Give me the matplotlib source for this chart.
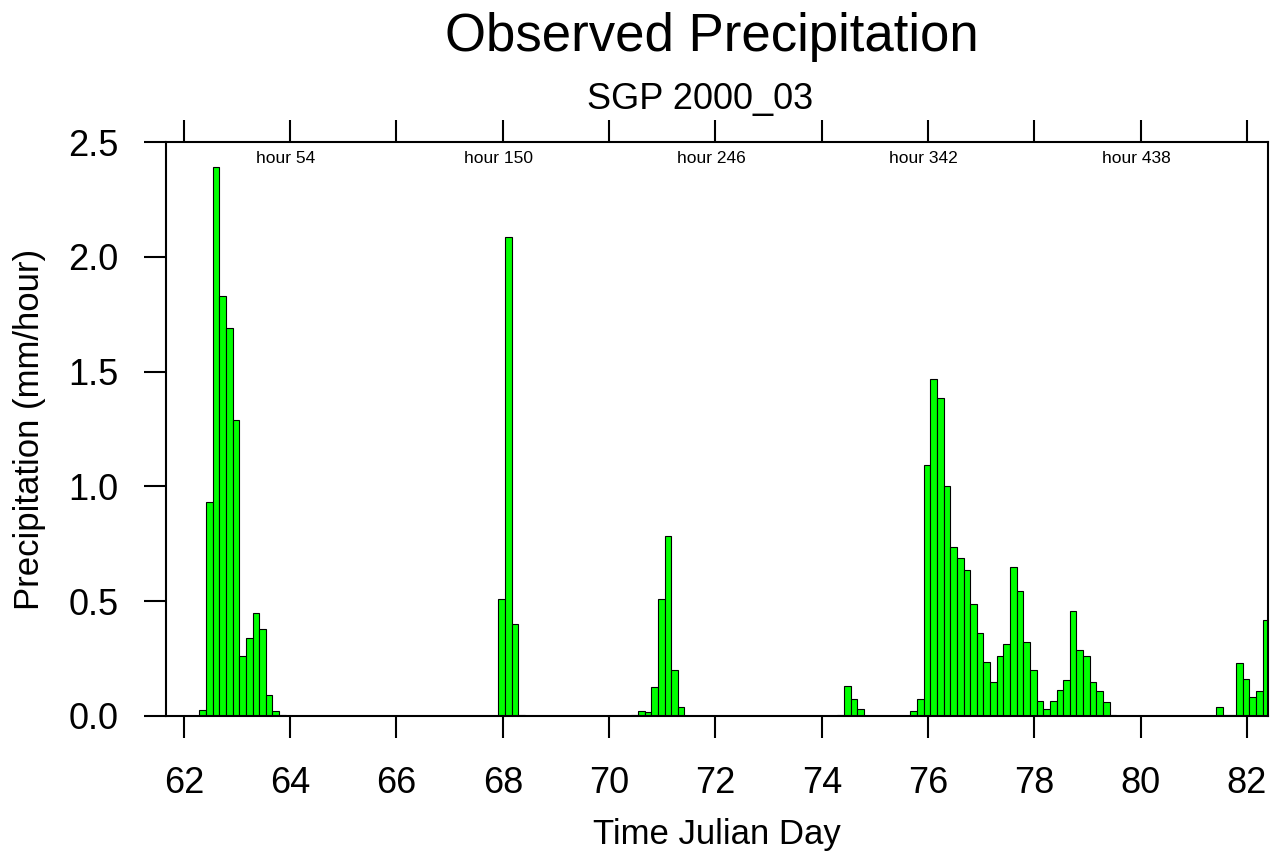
import matplotlib
matplotlib.use("Agg")
import numpy as np
import matplotlib.pyplot as plt

plt.rcParams['font.family'] = ['Liberation Sans', 'DejaVu Sans']

# 3-hourly observed precipitation (mm/hour), starting at day 61.667
start_day = 61.667
step_hours = 3
precip = [
    0, 0, 0, 0, 0, 0.028, 0.93, 2.39, 1.83, 1.69,
    1.29, 0.26, 0.34, 0.45, 0.38, 0.09, 0.02, 0.003, 0, 0,
    0, 0, 0, 0, 0, 0, 0, 0, 0, 0,
    0, 0, 0, 0, 0, 0, 0, 0, 0, 0,
    0, 0, 0, 0, 0, 0, 0, 0, 0, 0,
    0.51, 2.085, 0.40, 0.005, 0, 0, 0, 0, 0, 0,
    0, 0, 0, 0, 0, 0, 0, 0, 0, 0,
    0.005, 0.022, 0.017, 0.125, 0.51, 0.786, 0.20, 0.04, 0, 0,
    0, 0, 0, 0, 0, 0, 0, 0, 0, 0,
    0, 0, 0, 0, 0, 0, 0, 0, 0, 0,
    0, 0.005, 0.13, 0.075, 0.03, 0, 0, 0, 0, 0,
    0, 0, 0.022, 0.075, 1.095, 1.468, 1.385, 1.00, 0.736, 0.689,
    0.635, 0.488, 0.36, 0.234, 0.149, 0.261, 0.314, 0.65, 0.545, 0.324,
    0.201, 0.067, 0.030, 0.067, 0.114, 0.157, 0.455, 0.288, 0.259, 0.146,
    0.107, 0.059, 0.005, 0, 0, 0, 0, 0, 0, 0,
    0, 0, 0, 0, 0, 0, 0, 0, 0.038, 0.005,
    0.005, 0.231, 0.161, 0.084, 0.107, 0.418,
]
hour_marks = [54, 150, 246, 342, 438]
xticks = [62, 64, 66, 68, 70, 72, 74, 76, 78, 80, 82]
yticks = [0.0, 0.5, 1.0, 1.5, 2.0, 2.5]

step = step_hours / 24.0
days = start_day + np.arange(len(precip)) * step

fig = plt.figure(figsize=(12.85, 8.56), dpi=100)
ax = fig.add_axes([0.129, 0.1636, 0.858, 0.6705])

ax.bar(days, precip, width=step, align='edge', color='#00ff00',
       edgecolor='black', linewidth=0.8)

ax.set_xlim(61.66, 82.40)
ax.set_ylim(0, 2.5)
ax.set_xticks(xticks)
ax.set_yticks(yticks)
ax.set_yticklabels([f"{v:.1f}" for v in yticks])

for s in ax.spines.values():
    s.set_linewidth(1.5)

ax.tick_params(axis='x', which='both', direction='out', length=16, width=1.5,
               labelsize=26, pad=20, top=True, labeltop=False)
ax.tick_params(axis='y', which='both', direction='out', length=16, width=1.5,
               labelsize=26, pad=18, right=False)

for h in hour_marks:
    ax.text(start_day + h / 24.0, 0.985, f"hour {h}", transform=ax.get_xaxis_transform(),
            ha='center', va='top', fontsize=12.5)

ax.set_xlabel("Time Julian Day", fontsize=25, labelpad=12)
ax.set_ylabel("Precipitation (mm/hour)", fontsize=25, labelpad=16)

fig.text(0.554, 0.957, "Observed Precipitation", ha='center', va='center', fontsize=38)
fig.text(0.545, 0.884, "SGP 2000_03", ha='center', va='center', fontsize=26)

fig.savefig("out.png", dpi=100)
